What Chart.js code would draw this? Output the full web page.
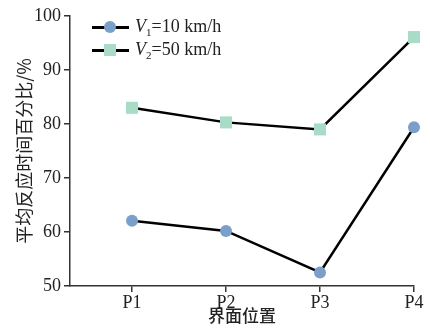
<!DOCTYPE html>
<html>
<head>
<meta charset="utf-8">
<script src="https://cdn.jsdelivr.net/npm/chart.js@4.4.0/dist/chart.umd.min.js"></script>
<style>
  html, body { margin: 0; padding: 0; background: #fff; }
  .wrap { position: relative; width: 430px; height: 331px; }
  canvas { display: block; }
  .legend { position: absolute; left: 92px; top: 16px; font-family: "Liberation Serif", "DejaVu Serif", serif; font-size: 18px; color: #222; }
  .legend .row { position: relative; height: 23px; }
  .legend .line { position: absolute; left: 0; top: 10px; width: 37px; height: 3px; background: #000; }
  .legend .mk { position: absolute; left: 12px; top: 5px; width: 12px; height: 12px; }
  .legend .txt { position: absolute; left: 43px; top: 0; white-space: nowrap; line-height: 20px; }
  .legend sub { font-size: 11px; vertical-align: -4px; }
</style>
</head>
<body>
<div class="wrap">
  <canvas id="c" width="430" height="331"></canvas>
  <div class="legend">
    <div class="row"><div class="line"></div><div class="mk" style="border-radius:50%;background:#7b9fcb;"></div><div class="txt"><i>V</i><sub>1</sub>=10 km/h</div></div>
    <div class="row"><div class="line"></div><div class="mk" style="background:#a8dcc6;"></div><div class="txt"><i>V</i><sub>2</sub>=50 km/h</div></div>
  </div>
</div>
<script>
// Categories and values
const positions = ["P1", "P2", "P3", "P4"];
const v1Values = [62.1, 60.2, 52.5, 79.4];
const v2Values = [83.0, 80.3, 79.0, 96.1];
const yTicks = [50, 60, 70, 80, 90, 100];

const serif = "'Liberation Serif', 'DejaVu Serif', serif";
const cjk = "'Noto Sans CJK SC', sans-serif";

const toPoints = (vals) => vals.map((v, i) => ({ x: i + 1, y: v }));

new Chart(document.getElementById("c"), {
    type: "line",
    data: {
        datasets: [
            {
                label: "V1=10 km/h",
                data: toPoints(v1Values),
                borderColor: "#000",
                borderWidth: 2.5,
                pointStyle: "circle",
                pointRadius: 6,
                pointBackgroundColor: "#7b9fcb",
                pointBorderWidth: 0,
                clip: false
            },
            {
                label: "V2=50 km/h",
                data: toPoints(v2Values),
                borderColor: "#000",
                borderWidth: 2.5,
                pointStyle: "rect",
                pointRadius: 8.5,
                pointBackgroundColor: "#a8dcc6",
                pointBorderWidth: 0,
                clip: false
            }
        ]
    },
    options: {
        responsive: false,
        animation: false,
        layout: { padding: { left: 0, right: 16, top: 16, bottom: 0 } },
        plugins: { legend: { display: false }, tooltip: { enabled: false } },
        scales: {
            x: {
                type: "linear",
                min: 0.34,
                max: 4,
                afterBuildTicks: (scale) => {
                    scale.ticks = positions.map((p, i) => ({ value: i + 1 }));
                },
                afterFit: (scale) => { scale.height = 45; },
                ticks: {
                    color: "#222",
                    font: { family: serif, size: 18 },
                    padding: 0,
                    maxRotation: 0,
                    callback: (value) => positions[value - 1]
                },
                grid: { display: true, drawOnChartArea: false, tickLength: 6, color: "#333", lineWidth: 1.5 },
                border: { color: "#333", width: 1.5 },
                title: {
                    display: true,
                    text: "界面位置",
                    color: "#222",
                    font: { family: cjk, size: 17, weight: "500" },
                    padding: { top: 0, bottom: 5 }
                }
            },
            y: {
                min: 50,
                max: 100,
                afterBuildTicks: (scale) => {
                    scale.ticks = yTicks.map((v) => ({ value: v }));
                },
                afterFit: (scale) => { scale.width = 70; },
                ticks: {
                    color: "#222",
                    font: { family: serif, size: 18 },
                    padding: 3
                },
                grid: { display: true, drawOnChartArea: false, tickLength: 6, color: "#333", lineWidth: 1.5 },
                border: { color: "#333", width: 1.5 },
                title: {
                    display: true,
                    text: "平均反应时间百分比/%",
                    color: "#222",
                    font: { family: cjk, size: 18 },
                    padding: { top: 13, bottom: 0 }
                }
            }
        }
    }
});
</script>
</body>
</html>
